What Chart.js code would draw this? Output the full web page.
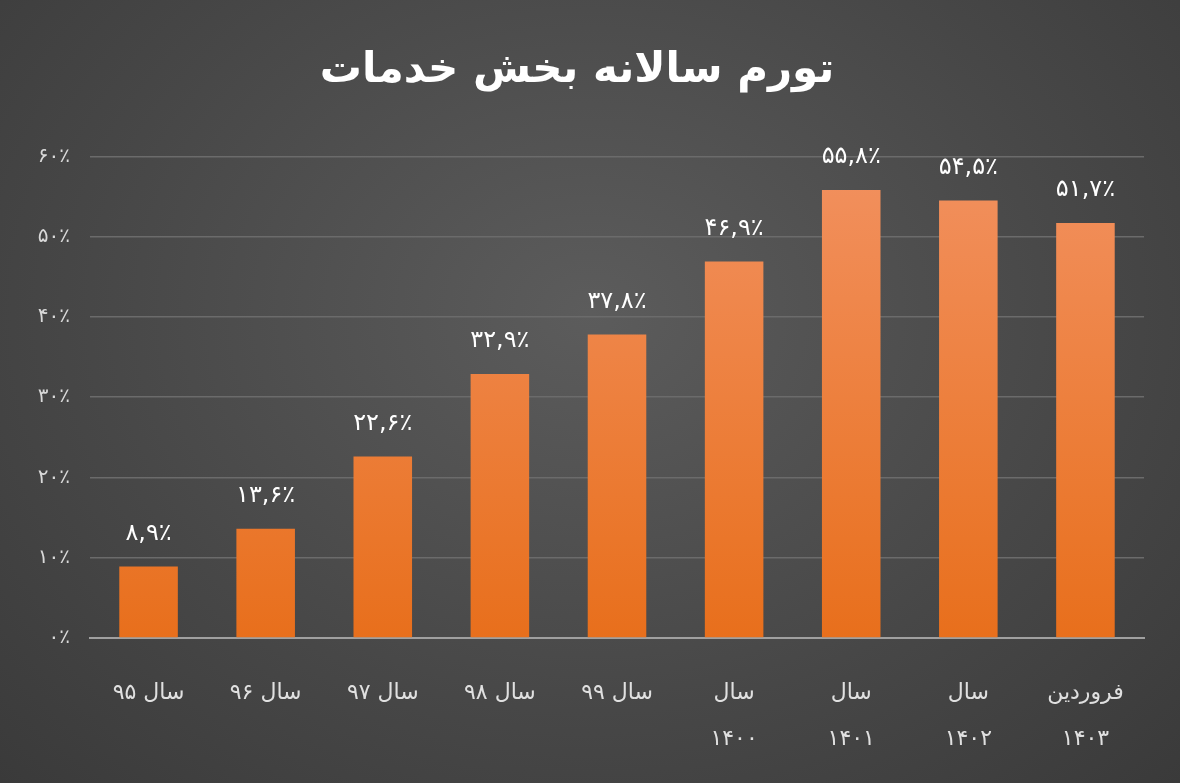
<!DOCTYPE html>
<html><head><meta charset="utf-8">
<script src="https://cdn.jsdelivr.net/npm/chart.js@4"></script>
<style>
html,body{margin:0;padding:0;}
body{width:1180px;height:783px;background:radial-gradient(ellipse at 50% 40%,#5c5c5c 0%,#474747 60%,#3a3a3a 100%);overflow:hidden;}
#wrap{position:absolute;left:0;top:0;width:1180px;height:783px;}
</style></head><body>
<div id="wrap"><canvas id="c" width="1180" height="783"></canvas></div>
<script>
const title = 'تورم سالانه بخش خدمات';
const categories = ['سال ۹۵','سال ۹۶','سال ۹۷','سال ۹۸','سال ۹۹',['سال','۱۴۰۰'],['سال','۱۴۰۱'],['سال','۱۴۰۲'],['فروردین','۱۴۰۳']];
const values = [8.9,13.6,22.6,32.9,37.8,46.9,55.8,54.5,51.7];
const valueLabels = ['۸,۹٪','۱۳,۶٪','۲۲,۶٪','۳۲,۹٪','۳۷,۸٪','۴۶,۹٪','۵۵,۸٪','۵۴,۵٪','۵۱,۷٪'];
const yTicks = {0:'۰٪',10:'۱۰٪',20:'۲۰٪',30:'۳۰٪',40:'۴۰٪',50:'۵۰٪',60:'۶۰٪'};

const font = "'DejaVu Sans', sans-serif";
const labelPlugin = {
  id: 'vals',
  afterDatasetsDraw(chart) {
    const ctx = chart.ctx;
    const meta = chart.getDatasetMeta(0);
    ctx.save();
    ctx.fillStyle = '#ffffff';
    ctx.font = '24px ' + font;
    ctx.textAlign = 'center';
    ctx.textBaseline = 'bottom';
    meta.data.forEach((bar, i) => {
      ctx.fillText(valueLabels[i], bar.x, bar.y - 21);
    });
    ctx.restore();
  }
};

new Chart(document.getElementById('c'), {
  type: 'bar',
  data: {
    labels: categories,
    datasets: [{
      data: values,
      backgroundColor: (c) => {
        const area = c.chart.chartArea;
        if (!area) return '#ec7a2e';
        const g = c.chart.ctx.createLinearGradient(0, area.top, 0, area.bottom);
        g.addColorStop(0, '#f29160');
        g.addColorStop(1, '#e86f1c');
        return g;
      },
      categoryPercentage: 1,
      barPercentage: 0.5
    }]
  },
  options: {
    responsive: false,
    animation: false,
    layout: { padding: { top: 20, right: 36, left: 10, bottom: 10 } },
    plugins: {
      legend: { display: false },
      tooltip: { enabled: false },
      title: {
        display: true, text: title, color: '#ffffff',
        font: { family: font, size: 42, weight: 'bold' },
        padding: { top: 26, bottom: 60 }
      }
    },
    scales: {
      y: {
        min: 0, max: 60,
        afterFit: (s) => { s.width = 80; },
        ticks: { stepSize: 10, color: '#d9d9d9', font: { family: font, size: 20 }, padding: 20,
          callback: (v) => yTicks[v] },
        grid: { color: '#6b6b6b', lineWidth: 1.5, drawTicks: false },
        border: { display: false }
      },
      x: {
        afterFit: (s) => { s.height = 135; },
        ticks: { color: '#e0e0e0', font: { family: font, size: 22, lineHeight: 2.1 }, padding: 24, maxRotation: 0 },
        grid: { display: false },
        border: { color: '#a0a0a0', width: 2 }
      }
    }
  },
  plugins: [labelPlugin]
});
</script>
</body></html>
